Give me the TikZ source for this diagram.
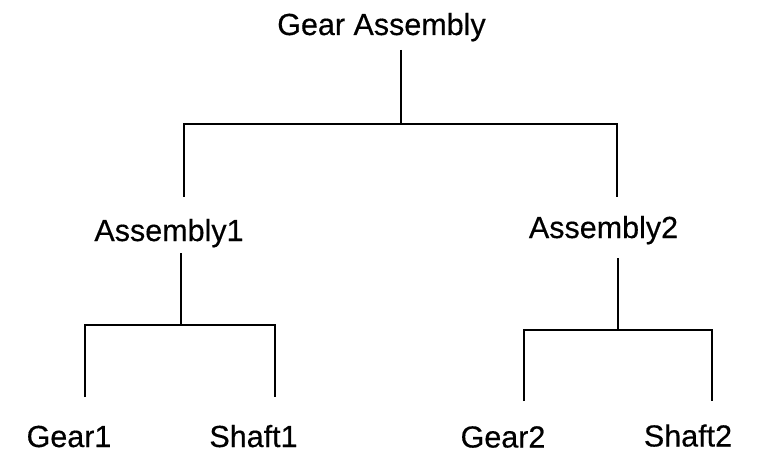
\documentclass[tikz,border=0pt]{standalone}
\usepackage{fontspec}
\setmainfont{Liberation Sans}[FakeBold=0.4]
\begin{document}
\begin{tikzpicture}[x=1pt,y=-1pt,
  label/.style={anchor=base,inner sep=0pt,font=\fontsize{30.5}{34}\selectfont},
  link/.style={line width=2pt,line join=miter}]
\useasboundingbox[fill=white] (0,0) rectangle (759,454);

% part names
\node[label] (ga) at (381.5,35) {Gear Assembly};
\node[label] (a1) at (169,241) {Assembly1};
\node[label] (a2) at (603.5,238) {Assembly2};
\node[label] (g1) at (69,447) {Gear1};
\node[label] (s1) at (253.5,447) {Shaft1};
\node[label] (g2) at (503,447.5) {Gear2};
\node[label] (s2) at (688,446.5) {Shaft2};

% connector end points and junctions
\coordinate (gaS) at (400.5,50);
\coordinate (gaJ) at (400.5,124.5);
\coordinate (a1N) at (184,197);
\coordinate (a2N) at (617,197);

\coordinate (a1S) at (180.5,253);
\coordinate (a1J) at (180.5,325);
\coordinate (g1N) at (85,397);
\coordinate (s1N) at (274.5,397);

\coordinate (a2S) at (618,258);
\coordinate (a2J) at (618,330);
\coordinate (g2N) at (524,401);
\coordinate (s2N) at (711.5,401);

% top level
\draw[link] (gaS) -- (gaJ);
\draw[link] (a1N) |- (gaJ) -| (a2N);

% first sub-assembly
\draw[link] (a1S) -- (a1J);
\draw[link] (g1N) |- (a1J) -| (s1N);

% second sub-assembly
\draw[link] (a2S) -- (a2J);
\draw[link] (g2N) |- (a2J) -| (s2N);
\end{tikzpicture}
\end{document}
